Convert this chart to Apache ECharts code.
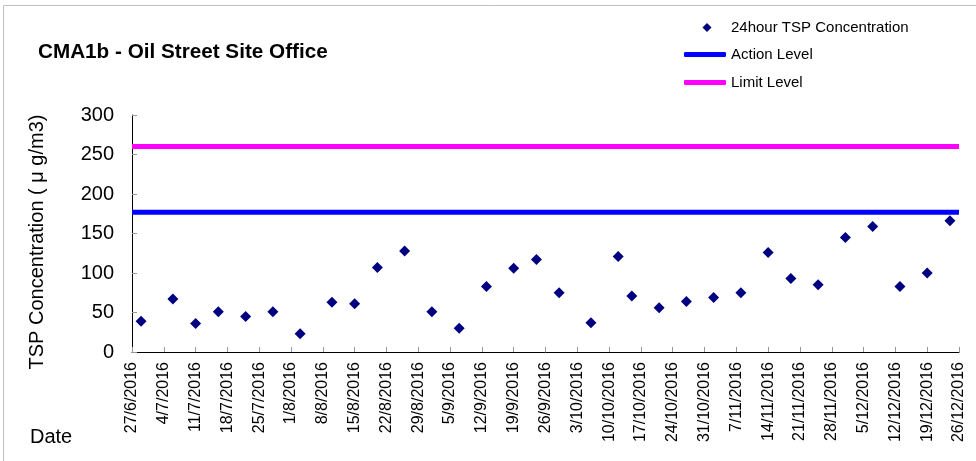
<!DOCTYPE html>
<html>
<head>
<meta charset="utf-8">
<script src="https://cdn.jsdelivr.net/npm/echarts@6/dist/echarts.min.js"></script>
<style>
html,body{margin:0;padding:0;background:#fff;}
#chart{width:976px;height:461px;}
</style>
</head>
<body>
<div id="chart"></div>
<script>
// ---- data ----
const chartTitle = 'CMA1b - Oil Street Site Office';
const axisStart = '2016-06-27';
const axisEnd = '2016-12-26';
const tickLabels = ['27/6/2016','4/7/2016','11/7/2016','18/7/2016','25/7/2016','1/8/2016','8/8/2016','15/8/2016','22/8/2016','29/8/2016','5/9/2016','12/9/2016','19/9/2016','26/9/2016','3/10/2016','10/10/2016','17/10/2016','24/10/2016','31/10/2016','7/11/2016','14/11/2016','21/11/2016','28/11/2016','5/12/2016','12/12/2016','19/12/2016','26/12/2016'];
const sampleDates = ['2016-06-29','2016-07-06','2016-07-11','2016-07-16','2016-07-22','2016-07-28','2016-08-03','2016-08-10','2016-08-15','2016-08-20','2016-08-26','2016-09-01','2016-09-07','2016-09-13','2016-09-19','2016-09-24','2016-09-29','2016-10-06','2016-10-12','2016-10-15','2016-10-21','2016-10-27','2016-11-02','2016-11-08','2016-11-14','2016-11-19','2016-11-25','2016-12-01','2016-12-07','2016-12-13','2016-12-19','2016-12-24'];
const tspValues = [39, 67, 36, 51, 45, 51, 23, 63, 61, 107, 128, 51, 30, 83, 106, 117, 75, 37, 121, 71, 56, 64, 69, 75, 126, 93, 85, 145, 159, 83, 100, 166];
const actionLevel = 177;
const limitLevel = 260;
const yTicks = [0, 50, 100, 150, 200, 250, 300];

// ---- helpers ----
const DAY = 86400000;
function dayOffset(s) {
  const p = s.split('-').map(Number);
  const q = axisStart.split('-').map(Number);
  return Math.round((Date.UTC(p[0], p[1]-1, p[2]) - Date.UTC(q[0], q[1]-1, q[2])) / DAY);
}
const xMax = dayOffset(axisEnd);
const scatterData = sampleDates.map((d, i) => [dayOffset(d), tspValues[i]]);
const FONT = '"Liberation Sans", Arial, sans-serif';

const chart = echarts.init(document.getElementById('chart'), null, {renderer: 'canvas'});
chart.setOption({
  animation: false,
  backgroundColor: '#ffffff',
  title: {
    text: chartTitle, left: 38, top: 42, padding: 0,
    textStyle: {fontFamily: FONT, fontSize: 20.7, fontWeight: 'bold', color: '#000'}
  },
  legend: [
    {
      data: [{name: '24hour TSP Concentration', icon: 'path://M0,0M42,10M23,0.5L27.5,5L23,9.5L18.5,5Z'}],
      left: 684, top: 20, padding: 0, itemWidth: 42, itemHeight: 10,
      itemStyle: {color: '#000080', opacity: 1},
      textStyle: {fontFamily: FONT, fontSize: 15, color: '#000'}
    },
    {
      data: [{name: 'Action Level', icon: 'roundRect'}, {name: 'Limit Level', icon: 'roundRect'}],
      orient: 'vertical', left: 684, top: 47, padding: 0, itemGap: 13, itemWidth: 42, itemHeight: 5,
      textStyle: {fontFamily: FONT, fontSize: 15, color: '#000'}
    }
  ],
  grid: {left: 132, right: 17, top: 115, bottom: 109, containLabel: false},
  xAxis: {
    type: 'value', min: 0, max: xMax, interval: 7,
    axisLine: {lineStyle: {color: '#000', width: 1}},
    axisTick: {inside: true, length: 5, lineStyle: {color: '#999'}},
    splitLine: {show: false},
    axisLabel: {
      rotate: 90, margin: 10, fontFamily: FONT, fontSize: 16, color: '#000',
      formatter: v => tickLabels[Math.round(v / 7)] || ''
    }
  },
  yAxis: {
    type: 'value', min: yTicks[0], max: yTicks[yTicks.length-1], interval: yTicks[1]-yTicks[0],
    axisLine: {show: true, lineStyle: {color: '#000', width: 1}},
    axisTick: {show: true, inside: true, length: 5, lineStyle: {color: '#999'}},
    splitLine: {show: false},
    axisLabel: {margin: 18, fontFamily: FONT, fontSize: 20, color: '#000'}
  },
  graphic: [
    {type: 'rect', shape: {x: 3.5, y: 5.5, width: 990, height: 480}, style: {fill: 'none', stroke: '#c0c0c0', lineWidth: 1}, silent: true, z: -1},
    {type: 'text', x: 37, y: 242, rotation: Math.PI/2,
     style: {text: 'TSP Concentration ( μ g/m3)', font: '20px ' + FONT, fill: '#000', align: 'center', verticalAlign: 'middle'}},
    {type: 'text', x: 30, y: 437,
     style: {text: 'Date', font: '20px ' + FONT, fill: '#000', align: 'left', verticalAlign: 'middle'}}
  ],
  series: [
    {
      name: '24hour TSP Concentration', type: 'scatter', data: scatterData,
      symbol: 'diamond', symbolSize: 11, itemStyle: {color: '#000080', opacity: 1}, z: 5
    },
    {
      name: 'Action Level', type: 'line', data: [[0, actionLevel], [xMax, actionLevel]],
      symbol: 'none', lineStyle: {color: '#0000ff', width: 5}, itemStyle: {color: '#0000ff'}, z: 3
    },
    {
      name: 'Limit Level', type: 'line', data: [[0, limitLevel], [xMax, limitLevel]],
      symbol: 'none', lineStyle: {color: '#ff00ff', width: 5}, itemStyle: {color: '#ff00ff'}, z: 3
    }
  ]
});
</script>
</body>
</html>
